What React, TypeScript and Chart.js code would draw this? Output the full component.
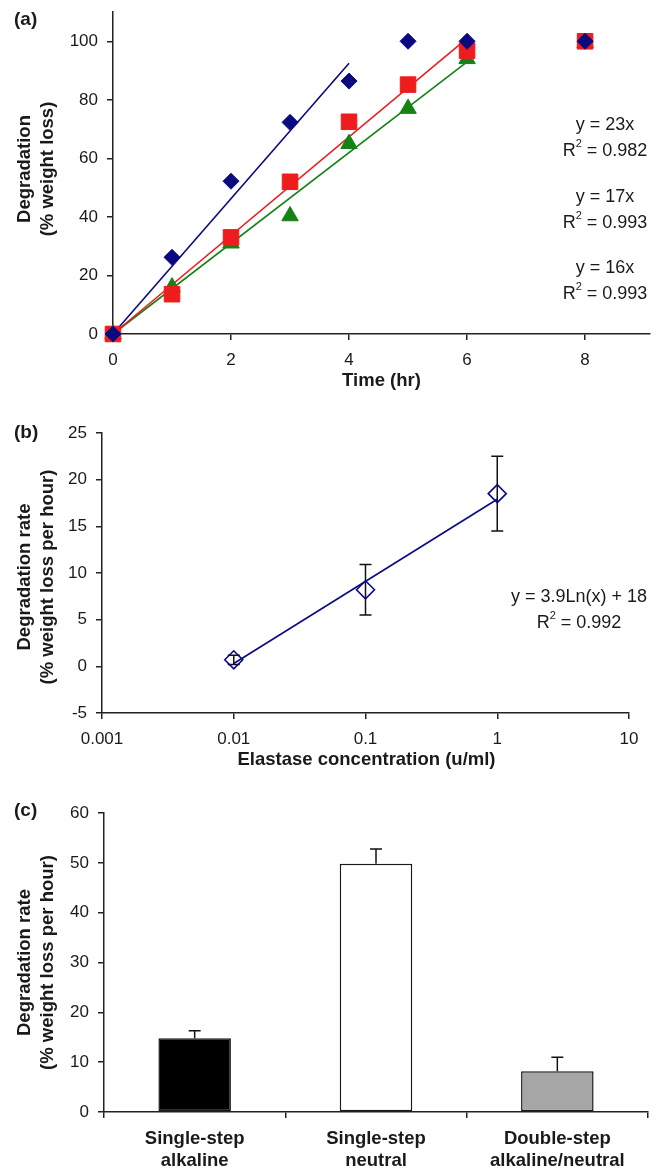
import React, { useEffect, useRef } from "react";
import { Chart, registerables } from "chart.js";

Chart.register(...registerables);

const FONT = "'Liberation Sans', Arial, Helvetica, sans-serif";
const TEXT = "#1a1a1a";
const AXIS = "#222222";
const NAVY = "#0a0a80";
const RED = "#ee1c1c";
const GREEN = "#148214";

// ---------- Panel (a): degradation vs time ----------
const timeHr = [0, 1, 2, 3, 4, 5, 6, 8];
const blueDeg = [0, 26.2, 52.2, 72.3, 86.4, 100, 100, 100];
const redDeg = [0, 13.6, 33, 52, 72.5, 85.2, 96.8, 100];
const greenDeg = [0, 16, 31, 40.3, 65, 77, 94, 99.5];
const blueFitX = [0, 4];
const blueFitY = [0, 92.5];
const redFitX = [0, 6];
const redFitY = [0, 101];
const greenFitX = [0, 6];
const greenFitY = [0, 93];
const timeTicks = [0, 2, 4, 6, 8];
const degTicks = [0, 20, 40, 60, 80, 100];
const fitEqA = ["y = 23x", "y = 17x", "y = 16x"];
const fitR2A = ["0.982", "0.993", "0.993"];

// ---------- Panel (b): rate vs elastase concentration ----------
const elastaseConc = [0.01, 0.1, 1];
const elastaseRate = [0.7, 8.2, 18.5];
const elastaseErr = [0.5, 2.7, 4.0];
const elastaseFitX = [0.01, 1];
const elastaseFitY = [0.3, 17.9];
const concTicks = [0.001, 0.01, 0.1, 1, 10];
const concTickLabels = ["0.001", "0.01", "0.1", "1", "10"];
const rateTicksB = [-5, 0, 5, 10, 15, 20, 25];
const fitEqB = "y = 3.9Ln(x) + 18";
const fitR2B = "0.992";

// ---------- Panel (c): rate by method ----------
const methodLabels = [
  ["Single-step", "alkaline"],
  ["Single-step", "neutral"],
  ["Double-step", "alkaline/neutral"],
];
const methodRate = [14.8, 49.8, 8.2];
const methodErr = [1.5, 3.0, 2.8];
const methodColors = ["#000000", "#ffffff", "#a6a6a6"];
const rateTicksC = [0, 10, 20, 30, 40, 50, 60];

const W = 664;
const HA = 395;
const HB = 395;
const HC = 380;

const gridOpts = {
  display: true,
  drawOnChartArea: false,
  drawTicks: true,
  tickLength: 6,
  color: AXIS,
  lineWidth: 1.5,
};
const borderOpts = { display: true, color: AXIS, width: 1.5 };
const tickFont = { family: FONT, size: 17 };

function fixTicks(values: number[]) {
  return (s: any) => {
    s.ticks = values.map((v) => ({ value: v }));
  };
}
function fixWidth(w: number) {
  return (s: any) => {
    s.width = w;
    s.paddingTop = 0;
    s.paddingBottom = 0;
  };
}
function fixHeight(h: number) {
  return (s: any) => {
    s.height = h;
    s.paddingLeft = 0;
    s.paddingRight = 0;
  };
}

function drawVTitle(ctx: CanvasRenderingContext2D, lines: string[], xs: number[], cy: number) {
  ctx.save();
  ctx.font = `bold 18.5px ${FONT}`;
  ctx.fillStyle = TEXT;
  ctx.textAlign = "center";
  ctx.textBaseline = "middle";
  lines.forEach((t, i) => {
    ctx.save();
    ctx.translate(xs[i], cy);
    ctx.rotate(-Math.PI / 2);
    ctx.fillText(t, 0, 0);
    ctx.restore();
  });
  ctx.restore();
}

function drawText(ctx: CanvasRenderingContext2D, t: string, x: number, y: number, font: string, align: CanvasTextAlign = "center") {
  ctx.save();
  ctx.font = font;
  ctx.fillStyle = TEXT;
  ctx.textAlign = align;
  ctx.textBaseline = "middle";
  ctx.fillText(t, x, y);
  ctx.restore();
}

function drawR2(ctx: CanvasRenderingContext2D, value: string, cx: number, cy: number) {
  const size = 18;
  const main = `${size}px ${FONT}`;
  const sup = `${11}px ${FONT}`;
  ctx.save();
  ctx.fillStyle = TEXT;
  ctx.textBaseline = "middle";
  ctx.textAlign = "left";
  ctx.font = main;
  const wR = ctx.measureText("R").width;
  const rest = " = " + value;
  const wRest = ctx.measureText(rest).width;
  ctx.font = sup;
  const wS = ctx.measureText("2").width;
  let x = cx - (wR + wS + wRest) / 2;
  ctx.font = main;
  ctx.fillText("R", x, cy);
  x += wR;
  ctx.font = sup;
  ctx.fillText("2", x, cy - 7);
  x += wS;
  ctx.font = main;
  ctx.fillText(rest, x, cy);
  ctx.restore();
}

const xy = (xs: number[], ys: number[]) => xs.map((x, i) => ({ x, y: ys[i] }));

export default function App() {
  const refA = useRef<HTMLCanvasElement>(null);
  const refB = useRef<HTMLCanvasElement>(null);
  const refC = useRef<HTMLCanvasElement>(null);

  useEffect(() => {
    // ---------- Chart A ----------
    const textA = {
      id: "textA",
      afterDraw(chart: any) {
        const ctx = chart.ctx;
        const ca = chart.chartArea;
        drawText(ctx, "(a)", 14, 20, `bold 19px ${FONT}`, "left");
        drawVTitle(ctx, ["Degradation", "(% weight loss)"], [25, 48], (ca.top + ca.bottom) / 2 - 4);
        drawText(ctx, "Time (hr)", (ca.left + ca.right) / 2, 381, `bold 18.5px ${FONT}`);
        const ys = [125, 197, 268];
        fitEqA.forEach((eq, i) => {
          drawText(ctx, eq, 605, ys[i], `18px ${FONT}`);
          drawR2(ctx, fitR2A[i], 605, ys[i] + 26);
        });
      },
    };
    const chartA = new Chart(refA.current!, {
      type: "scatter",
      data: {
        datasets: [
          { data: xy(timeHr, blueDeg), pointStyle: "rectRot", pointRadius: 8, backgroundColor: NAVY, borderColor: NAVY, borderWidth: 1, showLine: false, clip: false },
          { data: xy(timeHr, redDeg), pointStyle: "rect", pointRadius: 11, backgroundColor: RED, borderColor: RED, borderWidth: 1, showLine: false, clip: false },
          { data: xy(timeHr, greenDeg), pointStyle: "triangle", pointRadius: 9.5, backgroundColor: GREEN, borderColor: GREEN, borderWidth: 1, showLine: false, clip: false },
          { data: xy(blueFitX, blueFitY), showLine: true, pointRadius: 0, borderColor: NAVY, borderWidth: 1.6, clip: false },
          { data: xy(redFitX, redFitY), showLine: true, pointRadius: 0, borderColor: RED, borderWidth: 1.6, clip: false },
          { data: xy(greenFitX, greenFitY), showLine: true, pointRadius: 0, borderColor: GREEN, borderWidth: 1.6, clip: false },
        ],
      } as any,
      options: {
        responsive: false,
        animation: false,
        events: [],
        layout: { padding: { left: 0, top: 10, right: 14, bottom: 0 } },
        plugins: { legend: { display: false }, tooltip: { enabled: false } },
        scales: {
          x: {
            type: "linear",
            min: 0,
            max: 9.1,
            afterBuildTicks: fixTicks(timeTicks),
            afterFit: fixHeight(HA - 334),
            ticks: { font: tickFont, color: TEXT, padding: 10, callback: (v: any) => String(v) },
            grid: gridOpts,
            border: borderOpts,
          },
          y: {
            type: "linear",
            min: 0,
            max: 110,
            afterBuildTicks: fixTicks(degTicks),
            afterFit: fixWidth(113),
            ticks: { font: tickFont, color: TEXT, padding: 9, callback: (v: any) => String(v) },
            grid: gridOpts,
            border: borderOpts,
          },
        },
      } as any,
      plugins: [textA],
    });

    // ---------- Chart B ----------
    const textB = {
      id: "textB",
      beforeDatasetsDraw(chart: any) {
        const ctx = chart.ctx;
        const xs = chart.scales.x;
        const ys = chart.scales.y;
        ctx.save();
        ctx.strokeStyle = "#111";
        ctx.lineWidth = 1.5;
        elastaseConc.forEach((c, i) => {
          const px = xs.getPixelForValue(c);
          const top = ys.getPixelForValue(elastaseRate[i] + elastaseErr[i]);
          const bot = ys.getPixelForValue(elastaseRate[i] - elastaseErr[i]);
          ctx.beginPath();
          ctx.moveTo(px, top);
          ctx.lineTo(px, bot);
          ctx.moveTo(px - 6, top);
          ctx.lineTo(px + 6, top);
          ctx.moveTo(px - 6, bot);
          ctx.lineTo(px + 6, bot);
          ctx.stroke();
        });
        ctx.restore();
      },
      afterDraw(chart: any) {
        const ctx = chart.ctx;
        const ca = chart.chartArea;
        drawText(ctx, "(b)", 14, 38, `bold 19px ${FONT}`, "left");
        drawVTitle(ctx, ["Degradation rate", "(% weight loss per hour)"], [25, 48], (ca.top + ca.bottom) / 2 + 4);
        drawText(ctx, "Elastase concentration (u/ml)", (ca.left + ca.right) / 2 + 1, 365, `bold 18.5px ${FONT}`);
        drawText(ctx, fitEqB, 579, 202, `18px ${FONT}`);
        drawR2(ctx, fitR2B, 579, 228);
      },
    };
    const chartB = new Chart(refB.current!, {
      type: "scatter",
      data: {
        datasets: [
          { data: xy(elastaseConc, elastaseRate), pointStyle: "rectRot", pointRadius: 9, backgroundColor: "rgba(255,255,255,0)", borderColor: NAVY, borderWidth: 1.6, showLine: false, clip: false },
          { data: xy(elastaseFitX, elastaseFitY), showLine: true, pointRadius: 0, borderColor: NAVY, borderWidth: 1.6, clip: false },
        ],
      } as any,
      options: {
        responsive: false,
        animation: false,
        events: [],
        layout: { padding: { left: 0, top: 38, right: W - 629, bottom: 0 } },
        plugins: { legend: { display: false }, tooltip: { enabled: false } },
        scales: {
          x: {
            type: "logarithmic",
            min: 0.001,
            max: 10,
            afterBuildTicks: fixTicks(concTicks),
            afterFit: fixHeight(HB - 318),
            ticks: {
              font: tickFont,
              color: TEXT,
              padding: 10,
              autoSkip: false,
              maxRotation: 0,
              callback: (_v: any, i: number) => concTickLabels[i],
            },
            grid: gridOpts,
            border: borderOpts,
          },
          y: {
            type: "linear",
            min: -5,
            max: 25,
            afterBuildTicks: fixTicks(rateTicksB),
            afterFit: fixWidth(102),
            ticks: { font: tickFont, color: TEXT, padding: 9, callback: (v: any) => String(v) },
            grid: gridOpts,
            border: borderOpts,
          },
        },
      } as any,
      plugins: [textB],
    });

    // ---------- Chart C ----------
    const textC = {
      id: "textC",
      afterDatasetsDraw(chart: any) {
        const ctx = chart.ctx;
        const meta = chart.getDatasetMeta(0);
        const ys = chart.scales.y;
        ctx.save();
        ctx.strokeStyle = "#111";
        ctx.lineWidth = 1.5;
        meta.data.forEach((bar: any, i: number) => {
          const px = bar.x;
          const top = ys.getPixelForValue(methodRate[i] + methodErr[i]);
          const base = ys.getPixelForValue(methodRate[i]);
          ctx.beginPath();
          ctx.moveTo(px, base);
          ctx.lineTo(px, top);
          ctx.moveTo(px - 6, top);
          ctx.lineTo(px + 6, top);
          ctx.stroke();
        });
        ctx.restore();
      },
      afterDraw(chart: any) {
        const ctx = chart.ctx;
        const ca = chart.chartArea;
        drawText(ctx, "(c)", 14, 21, `bold 19px ${FONT}`, "left");
        drawVTitle(ctx, ["Degradation rate", "(% weight loss per hour)"], [25, 48], (ca.top + ca.bottom) / 2);
      },
    };
    const chartC = new Chart(refC.current!, {
      type: "bar",
      data: {
        labels: methodLabels,
        datasets: [
          {
            data: methodRate,
            backgroundColor: methodColors,
            borderColor: "#1a1a1a",
            borderWidth: 1.5,
            borderSkipped: false,
            categoryPercentage: 0.8,
            barPercentage: 0.5,
          },
        ],
      } as any,
      options: {
        responsive: false,
        animation: false,
        events: [],
        layout: { padding: { left: 0, top: 23, right: W - 648, bottom: 0 } },
        plugins: { legend: { display: false }, tooltip: { enabled: false } },
        scales: {
          x: {
            type: "category",
            offset: true,
            afterFit: fixHeight(HC - 322),
            ticks: { font: { family: FONT, size: 18.5, weight: "bold" }, color: TEXT, padding: 10, maxRotation: 0, autoSkip: false },
            grid: { ...gridOpts, offset: true },
            border: borderOpts,
          },
          y: {
            type: "linear",
            min: 0,
            max: 60,
            afterBuildTicks: fixTicks(rateTicksC),
            afterFit: fixWidth(104),
            ticks: { font: tickFont, color: TEXT, padding: 9, callback: (v: any) => String(v) },
            grid: gridOpts,
            border: borderOpts,
          },
        },
      } as any,
      plugins: [textC],
    });

    return () => {
      chartA.destroy();
      chartB.destroy();
      chartC.destroy();
    };
  }, []);

  const cs = (top: number, h: number): React.CSSProperties => ({
    position: "absolute",
    left: 0,
    top,
    width: W,
    height: h,
  });

  return (
    <div style={{ position: "absolute", left: 0, top: 0, width: W, height: 1170, background: "#fff" }}>
      <canvas ref={refA} width={W} height={HA} style={cs(0, HA)} />
      <canvas ref={refB} width={W} height={HB} style={cs(HA, HB)} />
      <canvas ref={refC} width={W} height={HC} style={cs(HA + HB, HC)} />
    </div>
  );
}
